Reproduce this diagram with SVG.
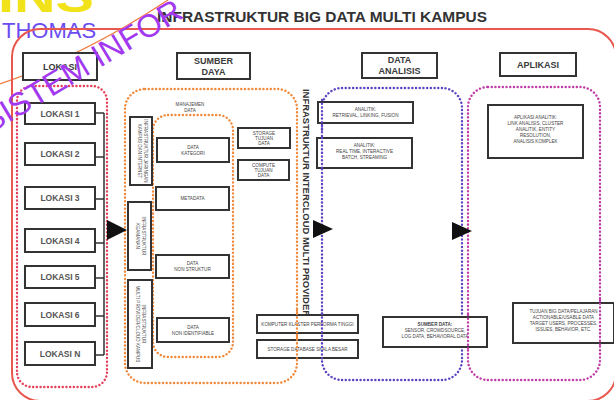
<svg xmlns="http://www.w3.org/2000/svg" width="614" height="400" viewBox="0 0 614 400">
<defs>
<style>
text{font-family:"Liberation Sans",Arial,sans-serif;fill:#3a3a3a;}
.box{fill:#fff;stroke:#333;stroke-width:2;}
.hdr{font-size:9px;font-weight:bold;text-anchor:middle;}
.lok{font-size:8.5px;font-weight:bold;text-anchor:middle;fill:#555;}
.sm{font-size:4.6px;text-anchor:middle;fill:#444;}
.dot{fill:none;stroke-width:2.4;stroke-linecap:round;stroke-dasharray:0.1 3.6;}
.bus{fill:none;stroke:#333;stroke-width:1.5;}
</style>
</defs>

<!-- watermark -->
<g id="watermark">
<text x="-2" y="12" textLength="96" lengthAdjust="spacingAndGlyphs" style="font-size:44px;font-weight:bold;fill:#f2e21a;">INS</text>
<text x="2" y="38" style="font-size:22px;fill:#6a4cf0;">THOMAS</text>
<path d="M0,84 Q85,55 168,0" fill="none" stroke="#f07838" stroke-width="1.2"/>
</g>

<!-- title -->
<text x="322" y="22" text-anchor="middle" textLength="330" lengthAdjust="spacingAndGlyphs" style="font-size:14px;font-weight:bold;fill:#333;">INFRASTRUKTUR BIG DATA MULTI KAMPUS</text>

<!-- outer frame -->
<rect id="frame" x="12" y="29" width="604" height="372" rx="28" fill="none" stroke="#e8584f" stroke-width="2"/>

<!-- header boxes -->
<g id="h-lokasi"><rect class="box" x="23" y="53" width="74" height="27"/><text class="hdr" x="60" y="70">LOKASI</text></g>
<g id="h-sumber"><rect class="box" x="177" y="53" width="73" height="26"/><text class="hdr" x="213.5" y="64">SUMBER</text><text class="hdr" x="213.5" y="75">DAYA</text></g>
<g id="h-data"><rect class="box" x="362" y="53" width="75" height="25"/><text class="hdr" x="399.5" y="63">DATA</text><text class="hdr" x="399.5" y="74">ANALISIS</text></g>
<g id="h-aplikasi"><rect class="box" x="500" y="53" width="76" height="23"/><text class="hdr" x="538" y="68">APLIKASI</text></g>

<!-- group containers -->
<g id="containers">
<rect class="dot" x="17" y="86" width="90" height="301" rx="15" stroke="#e5405a"/>
<rect class="dot" x="125" y="89" width="172" height="294" rx="20" stroke="#f08a3c"/>
<rect class="dot" x="153" y="115" width="80" height="242" rx="15" stroke="#f08a3c"/>
<rect class="dot" x="322" y="88" width="140" height="292" rx="20" stroke="#5e44c0"/>
<rect class="dot" x="468" y="87" width="132" height="293" rx="20" stroke="#c03ca8"/>
</g>

<!-- lokasi nodes -->
<g id="lokasi1"><rect class="box" x="25" y="103" width="70" height="21"/><text class="lok" x="60" y="117">LOKASI 1</text></g>
<g id="lokasi2"><rect class="box" x="25" y="143" width="70" height="22"/><text class="lok" x="60" y="157">LOKASI 2</text></g>
<g id="lokasi3"><rect class="box" x="25" y="187" width="70" height="22"/><text class="lok" x="60" y="201">LOKASI 3</text></g>
<g id="lokasi4"><rect class="box" x="25" y="229" width="70" height="23"/><text class="lok" x="60" y="244">LOKASI 4</text></g>
<g id="lokasi5"><rect class="box" x="25" y="266" width="70" height="22"/><text class="lok" x="60" y="280">LOKASI 5</text></g>
<g id="lokasi6"><rect class="box" x="25" y="303" width="70" height="23"/><text class="lok" x="60" y="318">LOKASI 6</text></g>
<g id="lokasiN"><rect class="box" x="25" y="342" width="70" height="23"/><text class="lok" x="60" y="357">LOKASI N</text></g>

<!-- connectors -->
<g id="connectors">
<path class="bus" d="M95,113H104M95,157H104M95,199H104M95,243H104M95,278H104M95,316H104M95,355H104M104,113V355"/>
<path d="M107,220L127,230L107,240Z" fill="#111"/>
<path d="M313,220L333,229L313,238Z" fill="#111"/>
<path d="M452,222L472,231L452,240Z" fill="#111"/>
</g>

<!-- sumber daya -->
<g id="manajemen-label"><text class="sm" x="190" y="106">MANAJEMEN</text><text class="sm" x="190" y="112">DATA</text></g>

<g id="infra-a"><rect class="box" x="130" y="117" width="22" height="68"/>
<text class="sm" transform="translate(141,151) rotate(90)" y="-3">INFRASTRUKTUR JARINGAN</text>
<text class="sm" transform="translate(141,151) rotate(90)" y="3">KAMPUS DAN INTERNET</text></g>
<g id="infra-b"><rect class="box" x="128" y="202" width="23" height="68"/>
<text class="sm" transform="translate(139.5,236) rotate(90)" y="-2">INFRASTRUKTUR</text>
<text class="sm" transform="translate(139.5,236) rotate(90)" y="4">KEAMANAN</text></g>
<g id="infra-c"><rect class="box" x="128" y="280" width="24" height="88"/>
<text class="sm" transform="translate(140,324) rotate(90)" y="-2">INFRASTRUKTUR</text>
<text class="sm" transform="translate(140,324) rotate(90)" y="4">MULTI PROVIDER/CLOUD KAMPUS</text></g>

<g id="data-kategori"><rect class="box" x="157" y="138" width="72" height="24"/><text class="sm" x="193" y="149">DATA</text><text class="sm" x="193" y="155">KATEGORI</text></g>
<g id="metadata"><rect class="box" x="156" y="187" width="73" height="23"/><text class="sm" x="192.5" y="200">METADATA</text></g>
<g id="data-nonstruktur"><rect class="box" x="156" y="255" width="73" height="23"/><text class="sm" x="192.5" y="265">DATA</text><text class="sm" x="192.5" y="271">NON STRUKTUR</text></g>
<g id="data-nonident"><rect class="box" x="157" y="318" width="72" height="24"/><text class="sm" x="193" y="329">DATA</text><text class="sm" x="193" y="335">NON IDENTIFIABLE</text></g>

<g id="storage"><rect class="box" x="238" y="128" width="52" height="20"/><text class="sm" x="264" y="135">STORAGE</text><text class="sm" x="264" y="140">TUJUAN</text><text class="sm" x="264" y="145">DATA</text></g>
<g id="compute"><rect class="box" x="238" y="160" width="51" height="20"/><text class="sm" x="263.5" y="167">COMPUTE</text><text class="sm" x="263.5" y="172">TUJUAN</text><text class="sm" x="263.5" y="177">DATA</text></g>

<text transform="translate(303,89) rotate(90)" textLength="228" lengthAdjust="spacingAndGlyphs" style="font-size:8.5px;font-weight:bold;fill:#333;">INFRASTRUKTUR INTERCLOUD MULTI PROVIDER</text>

<!-- data analisis -->
<g id="analitik1"><rect class="box" x="318" y="102" width="95" height="21"/><text class="sm" x="365.5" y="111">ANALITIK:</text><text class="sm" x="365.5" y="117">RETRIEVAL, LINKING, FUSION</text></g>
<g id="analitik2"><rect class="box" x="317" y="138" width="95" height="30"/><text class="sm" x="364.5" y="147">ANALITIK:</text><text class="sm" x="364.5" y="153">REAL TIME, INTERACTIVE</text><text class="sm" x="364.5" y="159">BATCH, STREAMING</text></g>

<g id="klaster"><rect class="box" x="257" y="315" width="101" height="18"/><text class="sm" x="307.5" y="326">KOMPUTER KLASTER PERFORMA TINGGI</text></g>
<g id="storage-db"><rect class="box" x="257" y="340" width="101" height="18"/><text class="sm" x="307.5" y="351">STORAGE DATABASE SKALA BESAR</text></g>
<g id="sumber-data"><rect class="box" x="383" y="317" width="104" height="30"/><text class="sm" x="435" y="326" style="font-weight:bold;">SUMBER DATA:</text><text class="sm" x="435" y="332">SENSOR, CROWDSOURCE,</text><text class="sm" x="435" y="338">LOG DATA, BEHAVIORAL DATA</text></g>

<!-- aplikasi -->
<g id="aplikasi"><rect class="box" x="488" y="105" width="95" height="53"/>
<text class="sm" x="535.5" y="119">APLIKASI ANALITIK:</text>
<text class="sm" x="535.5" y="125">LINK ANALISIS, CLUSTER</text>
<text class="sm" x="535.5" y="131">ANALITIK, ENTITY</text>
<text class="sm" x="535.5" y="137">RESOLUTION,</text>
<text class="sm" x="535.5" y="143">ANALISIS KOMPLEK</text></g>
<g id="tujuan"><rect class="box" x="513" y="303" width="101" height="40"/>
<text class="sm" x="563.5" y="313">TUJUAN BIG DATA/PELAJARAN</text>
<text class="sm" x="563.5" y="319">ACTIONABLE/USABLE DATA</text>
<text class="sm" x="563.5" y="325">TARGET USERS, PROCESSES,</text>
<text class="sm" x="563.5" y="331">ISSUES, BEHAVIOR, ETC.</text></g>

<!-- dotted lines shown crossing boxes -->
<g id="overlay">
<path class="dot" d="M322,100V130M322,138V170M322,310V360" stroke="#5e44c0"/>
<path class="dot" d="M297,310V360" stroke="#f08a3c"/>
<path class="dot" d="M468,315V350M600,300V345" stroke="#c03ca8"/>
</g>

<text transform="translate(-10,134) rotate(-31)" style="font-size:32px;fill:#a238f0;">SISTEM INFOR</text>
</svg>
